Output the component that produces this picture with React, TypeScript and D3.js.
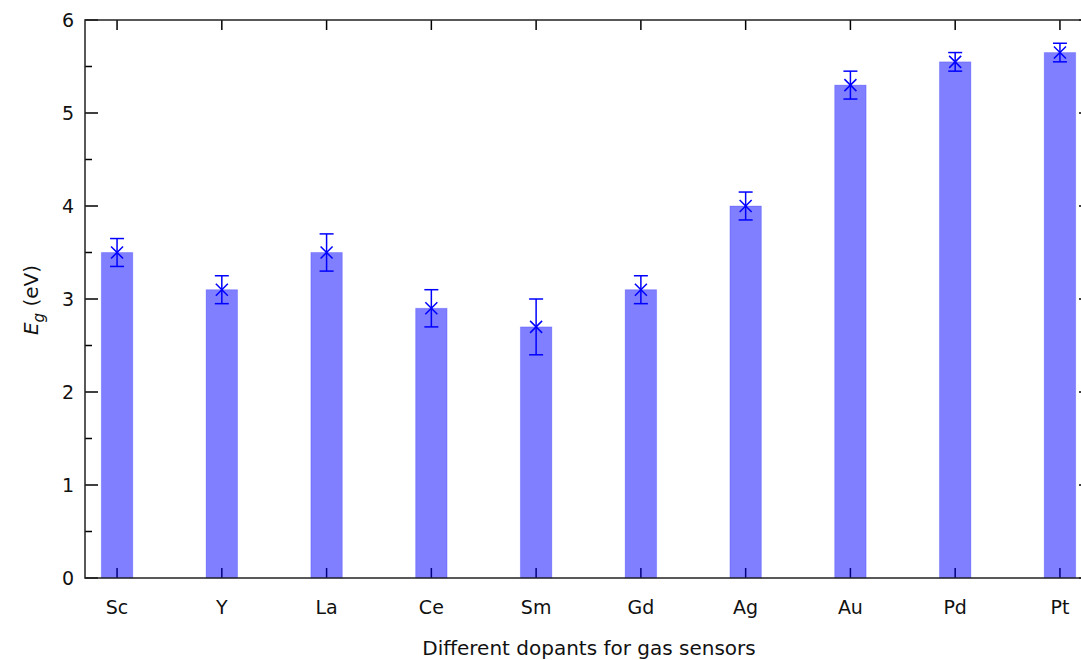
import React, { useEffect, useRef } from 'react';
import * as d3 from 'd3';

const dopants = ['Sc', 'Y', 'La', 'Ce', 'Sm', 'Gd', 'Ag', 'Au', 'Pd', 'Pt'];
const bandGap = [3.5, 3.1, 3.5, 2.9, 2.7, 3.1, 4.0, 5.3, 5.55, 5.65];
const errLow = [3.35, 2.95, 3.3, 2.7, 2.4, 2.95, 3.85, 5.15, 5.45, 5.55];
const errHigh = [3.65, 3.25, 3.7, 3.1, 3.0, 3.25, 4.15, 5.45, 5.65, 5.75];
const yTicks = [0, 1, 2, 3, 4, 5, 6];
const yMinorTicks = [0.5, 1.5, 2.5, 3.5, 4.5, 5.5];

const W = 1081;
const H = 660;
const left = 85;
const right = 1092;
const top = 20;
const bottom = 578;

const App = () => {
  const ref = useRef<SVGSVGElement>(null);

  useEffect(() => {
    const svg = d3.select(ref.current);
    svg.selectAll('*').remove();

    const font = 'Tahoma, Verdana, "DejaVu Sans", sans-serif';

    const x = d3.scaleLinear().domain([-0.306, dopants.length - 1 + 0.306]).range([left, right]);
    const y = d3.scaleLinear().domain([0, 6]).range([bottom, top]);

    const data = dopants.map((d, i) => ({ name: d, i, v: bandGap[i], lo: errLow[i], hi: errHigh[i] }));

    // ticks (drawn under the bars)
    const ticks = svg.append('g').attr('stroke', '#000').attr('stroke-width', 1.5);
    data.forEach(d => {
      ticks.append('line').attr('x1', x(d.i)).attr('x2', x(d.i)).attr('y1', bottom).attr('y2', bottom - 10);
      ticks.append('line').attr('x1', x(d.i)).attr('x2', x(d.i)).attr('y1', top).attr('y2', top + 10);
    });
    yTicks.forEach(t => {
      ticks.append('line').attr('x1', left).attr('x2', left + 13).attr('y1', y(t)).attr('y2', y(t));
      ticks.append('line').attr('x1', right).attr('x2', right - 13).attr('y1', y(t)).attr('y2', y(t));
    });
    yMinorTicks.forEach(t => {
      ticks.append('line').attr('x1', left).attr('x2', left + 7).attr('y1', y(t)).attr('y2', y(t));
      ticks.append('line').attr('x1', right).attr('x2', right - 7).attr('y1', y(t)).attr('y2', y(t));
    });

    // bars
    const bw = x(0.15) - x(0);
    svg.append('g')
      .selectAll('rect')
      .data(data)
      .enter()
      .append('rect')
      .attr('x', d => x(d.i) - bw)
      .attr('y', d => y(d.v))
      .attr('width', bw * 2)
      .attr('height', d => y(0) - y(d.v))
      .attr('fill', '#0000ff')
      .attr('fill-opacity', 0.5)
      .attr('stroke', '#0000ff')
      .attr('stroke-opacity', 0.2)
      .attr('stroke-width', 1);

    // error bars
    const eb = svg.append('g').attr('stroke', '#0000ff').attr('stroke-width', 1.5).attr('fill', 'none');
    data.forEach(d => {
      const cx = x(d.i);
      eb.append('line').attr('x1', cx).attr('x2', cx).attr('y1', y(d.lo)).attr('y2', y(d.hi));
      eb.append('line').attr('x1', cx - 7).attr('x2', cx + 7).attr('y1', y(d.lo)).attr('y2', y(d.lo));
      eb.append('line').attr('x1', cx - 7).attr('x2', cx + 7).attr('y1', y(d.hi)).attr('y2', y(d.hi));
      const cy = y(d.v);
      eb.append('line').attr('x1', cx - 6).attr('x2', cx + 6).attr('y1', cy - 6).attr('y2', cy + 6);
      eb.append('line').attr('x1', cx - 6).attr('x2', cx + 6).attr('y1', cy + 6).attr('y2', cy - 6);
    });

    // frame
    svg.append('rect')
      .attr('x', left).attr('y', top)
      .attr('width', right - left).attr('height', bottom - top)
      .attr('fill', 'none').attr('stroke', '#222').attr('stroke-width', 1.5);

    // tick labels
    svg.append('g')
      .selectAll('text')
      .data(yTicks)
      .enter()
      .append('text')
      .attr('x', 74)
      .attr('y', t => y(t))
      .attr('dy', '0.35em')
      .attr('text-anchor', 'end')
      .attr('font-family', font)
      .attr('font-size', 19)
      .attr('fill', '#111')
      .text(t => t);

    svg.append('g')
      .selectAll('text')
      .data(data)
      .enter()
      .append('text')
      .attr('x', d => x(d.i))
      .attr('y', 614)
      .attr('text-anchor', 'middle')
      .attr('font-family', font)
      .attr('font-size', 19)
      .attr('fill', '#111')
      .text(d => d.name);

    // axis titles
    svg.append('text')
      .attr('x', 589)
      .attr('y', 655)
      .attr('text-anchor', 'middle')
      .attr('font-family', font)
      .attr('font-size', 20)
      .attr('fill', '#111')
      .text('Different dopants for gas sensors');

    const yl = svg.append('text')
      .attr('transform', 'translate(38,300) rotate(-90)')
      .attr('text-anchor', 'middle')
      .attr('font-family', font)
      .attr('font-size', 20)
      .attr('fill', '#111');
    yl.append('tspan').attr('font-style', 'italic').text('E');
    yl.append('tspan').attr('font-style', 'italic').attr('font-size', 15).attr('dy', 6).text('g');
    yl.append('tspan').attr('dy', -6).text(' (eV)');
  }, []);

  return (
    <svg
      ref={ref}
      width={W}
      height={H}
      style={{ position: 'absolute', top: 0, left: 0, background: '#fff' }}
    ></svg>
  );
};

export default App;
